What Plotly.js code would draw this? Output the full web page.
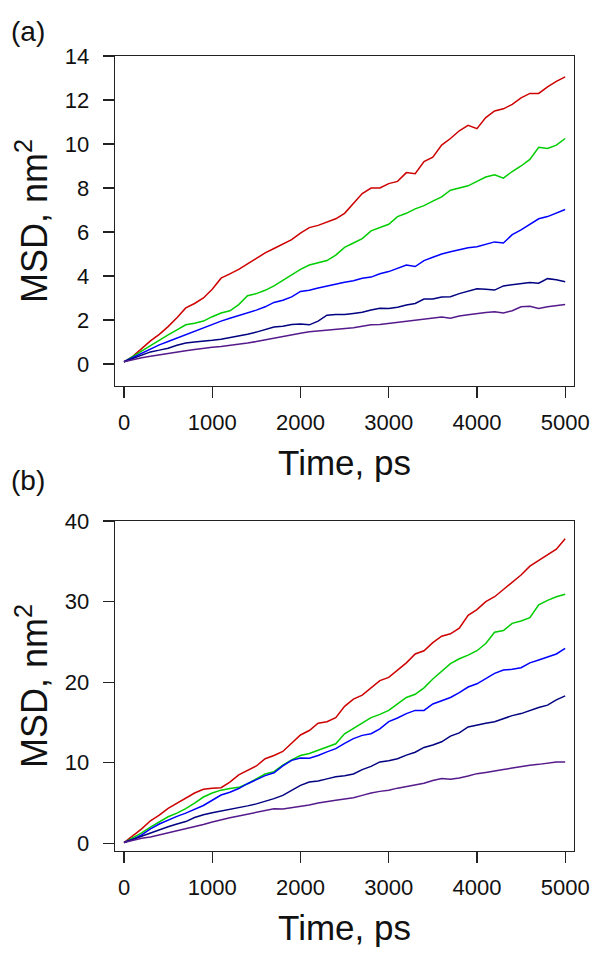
<!DOCTYPE html>
<html>
<head>
<meta charset="utf-8">
<script src="https://cdn.plot.ly/plotly-3.0.1.min.js"></script>
<style>
html,body{margin:0;padding:0;background:#fff;}
#chart{width:593px;height:953px;}
</style>
</head>
<body>
<div id="chart"></div>
<script>
// Time axis (ps)
const time = [0,100,200,300,400,500,600,700,800,900,1000,1100,1200,1300,1400,1500,1600,1700,1800,1900,2000,2100,2200,2300,2400,2500,2600,2700,2800,2900,3000,3100,3200,3300,3400,3500,3600,3700,3800,3900,4000,4100,4200,4300,4400,4500,4600,4700,4800,4900,5000];

// Panel (a) MSD, nm^2
const aRed = [0.1,0.35,0.7,1.05,1.35,1.7,2.1,2.55,2.75,3.0,3.4,3.9,4.1,4.3,4.55,4.8,5.05,5.25,5.45,5.65,5.95,6.2,6.3,6.45,6.6,6.85,7.3,7.75,8.0,8.0,8.2,8.3,8.7,8.65,9.2,9.4,9.95,10.25,10.6,10.85,10.7,11.2,11.5,11.6,11.8,12.1,12.3,12.3,12.6,12.85,13.05];
const aGreen = [0.1,0.35,0.6,0.85,1.1,1.32,1.55,1.78,1.85,1.95,2.15,2.32,2.42,2.7,3.1,3.2,3.35,3.55,3.8,4.05,4.3,4.5,4.6,4.7,4.95,5.3,5.5,5.7,6.05,6.2,6.35,6.7,6.85,7.05,7.2,7.4,7.6,7.9,8.0,8.1,8.3,8.5,8.6,8.45,8.75,9.0,9.3,9.85,9.8,9.95,10.25];
const aBlue = [0.1,0.3,0.5,0.7,0.87,1.02,1.18,1.33,1.5,1.65,1.82,1.95,2.08,2.2,2.33,2.45,2.6,2.8,2.9,3.05,3.3,3.35,3.45,3.55,3.65,3.72,3.78,3.9,3.95,4.1,4.2,4.35,4.5,4.43,4.7,4.85,5.0,5.1,5.2,5.28,5.33,5.45,5.55,5.5,5.88,6.1,6.35,6.6,6.7,6.85,7.02];
const aNavy = [0.1,0.25,0.4,0.55,0.63,0.72,0.85,0.95,1.0,1.03,1.08,1.13,1.2,1.27,1.35,1.45,1.57,1.68,1.72,1.8,1.82,1.78,1.95,2.22,2.25,2.25,2.3,2.35,2.45,2.53,2.52,2.58,2.68,2.75,2.95,2.95,3.05,3.06,3.2,3.32,3.42,3.4,3.36,3.55,3.6,3.62,3.7,3.67,3.88,3.83,3.74];
const aPurple = [0.1,0.2,0.28,0.35,0.42,0.48,0.54,0.6,0.66,0.72,0.76,0.8,0.84,0.88,0.95,1.02,1.1,1.19,1.27,1.33,1.4,1.47,1.5,1.54,1.57,1.6,1.65,1.72,1.78,1.8,1.85,1.9,1.96,2.0,2.05,2.12,2.14,2.08,2.18,2.24,2.3,2.34,2.38,2.32,2.42,2.6,2.62,2.52,2.6,2.66,2.7];

// Panel (b) MSD, nm^2
const bRed = [0.1,0.9,1.8,2.8,3.5,4.35,5.0,5.65,6.25,6.7,6.85,6.9,7.6,8.5,9.05,9.6,10.5,10.9,11.4,12.4,13.45,14.0,14.9,15.1,15.6,17.0,17.9,18.4,19.3,20.2,20.6,21.5,22.4,23.5,23.9,24.9,25.7,26.0,26.7,28.3,29.0,30.0,30.6,31.5,32.4,33.3,34.4,35.1,35.9,36.5,37.8];
const bGreen = [0.1,0.65,1.3,2.0,2.6,3.3,3.75,4.3,5.0,5.75,6.25,6.6,6.8,6.95,7.4,8.0,8.6,8.9,9.7,10.35,10.9,11.15,11.55,12.0,12.35,13.6,14.3,14.9,15.6,16.0,16.5,17.3,18.1,18.5,19.3,20.4,21.4,22.3,22.9,23.35,23.9,24.8,26.2,26.4,27.3,27.6,28.0,29.6,30.15,30.6,30.9];
const bBlue = [0.1,0.5,1.05,1.8,2.4,2.9,3.35,3.75,4.2,4.7,5.35,6.0,6.35,6.8,7.4,7.9,8.4,8.75,9.6,10.3,10.6,10.55,10.9,11.35,11.75,12.4,13.0,13.4,13.6,14.2,15.1,15.55,16.1,16.5,16.5,17.3,17.7,18.1,18.7,19.4,19.8,20.5,21.1,21.5,21.6,21.8,22.4,22.75,23.1,23.5,24.2];
const bNavy = [0.1,0.5,0.9,1.3,1.7,2.05,2.4,2.7,3.2,3.55,3.8,4.0,4.2,4.45,4.65,4.9,5.2,5.55,5.95,6.6,7.2,7.6,7.75,8.0,8.25,8.4,8.6,9.15,9.55,10.1,10.25,10.5,10.95,11.3,11.9,12.2,12.6,13.3,13.7,14.45,14.7,14.9,15.1,15.5,15.85,16.1,16.5,16.85,17.15,17.8,18.3];
const bPurple = [0.1,0.4,0.62,0.8,1.05,1.32,1.55,1.77,2.05,2.35,2.65,2.95,3.18,3.4,3.62,3.85,4.15,4.3,4.25,4.4,4.6,4.75,5.0,5.2,5.35,5.5,5.65,5.95,6.25,6.45,6.6,6.85,7.05,7.2,7.45,7.8,8.05,7.95,8.1,8.35,8.65,8.8,8.95,9.15,9.35,9.55,9.7,9.8,9.95,10.1,10.1];

const xTicks = [0,1000,2000,3000,4000,5000];
const aYTicks = [0,2,4,6,8,10,12,14];
const bYTicks = [0,10,20,30,40];
const seriesNames = ['red','green','blue','navy','purple'];
const colors = ['#CD0000','#00CD00','#0000FF','#000080','#551A8B'];

const aSeries = [aRed,aGreen,aBlue,aNavy,aPurple];
const bSeries = [bRed,bGreen,bBlue,bNavy,bPurple];

const traces = [];
aSeries.forEach((s,i)=>traces.push({x:time,y:s,type:'scatter',mode:'lines',name:seriesNames[i],
  line:{color:colors[i],width:1.5},xaxis:'x',yaxis:'y',showlegend:false}));
bSeries.forEach((s,i)=>traces.push({x:time,y:s,type:'scatter',mode:'lines',name:seriesNames[i],
  line:{color:colors[i],width:1.5},xaxis:'x2',yaxis:'y2',showlegend:false}));

const FONT = 'Liberation Sans, Arial, sans-serif';
const W = 593, H = 953;
const xDom = [115/W, 574/W];
const aDom = [1-386/H, 1-56/H];
const bDom = [1-851/H, 1-521/H];

function xAxis(anchor, dom){
  return {domain:dom, anchor:anchor, range:[-102,5100], tickvals:xTicks, ticktext:xTicks.map(String),
    ticks:'outside', ticklen:11, tickwidth:1.3, tickcolor:'#222', showline:true, mirror:true,
    linecolor:'#222', linewidth:1.4, showgrid:false, zeroline:false, ticklabelstandoff:5,
    tickfont:{family:FONT,size:22,color:'#111'},
    title:{text:'Time, ps', font:{family:FONT,size:35,color:'#111'}, standoff:16}};
}
function yAxis(anchor, dom, range, ticks){
  return {domain:dom, anchor:anchor, range:range, tickvals:ticks, ticktext:ticks.map(String),
    ticks:'outside', ticklen:11, tickwidth:1.3, tickcolor:'#222', showline:true, mirror:true,
    linecolor:'#222', linewidth:1.4, showgrid:false, zeroline:false, ticklabelstandoff:9,
    tickfont:{family:FONT,size:22,color:'#111'},
    title:{text:'MSD, nm<sup>2</sup>', font:{family:FONT,size:36,color:'#111'}, standoff:6}};
}

const layout = {
  width:W, height:H, margin:{l:0,r:0,t:0,b:0}, paper_bgcolor:'#fff', plot_bgcolor:'#fff',
  showlegend:false,
  xaxis: xAxis('y',[xDom[0],xDom[1]]),
  yaxis: yAxis('x',aDom,[-1.0,14],aYTicks),
  xaxis2: xAxis('y2',[xDom[0],xDom[1]]),
  yaxis2: yAxis('x2',bDom,[-0.95,40],bYTicks),
  annotations:[
    {text:'(a)', xref:'paper', yref:'paper', x:9/W, y:1-31/H, xanchor:'left', yanchor:'middle',
     showarrow:false, font:{family:FONT,size:28,color:'#111'}},
    {text:'(b)', xref:'paper', yref:'paper', x:9/W, y:1-481/H, xanchor:'left', yanchor:'middle',
     showarrow:false, font:{family:FONT,size:28,color:'#111'}}
  ]
};

Plotly.newPlot('chart', traces, layout, {displayModeBar:false, staticPlot:true});
</script>
</body>
</html>
